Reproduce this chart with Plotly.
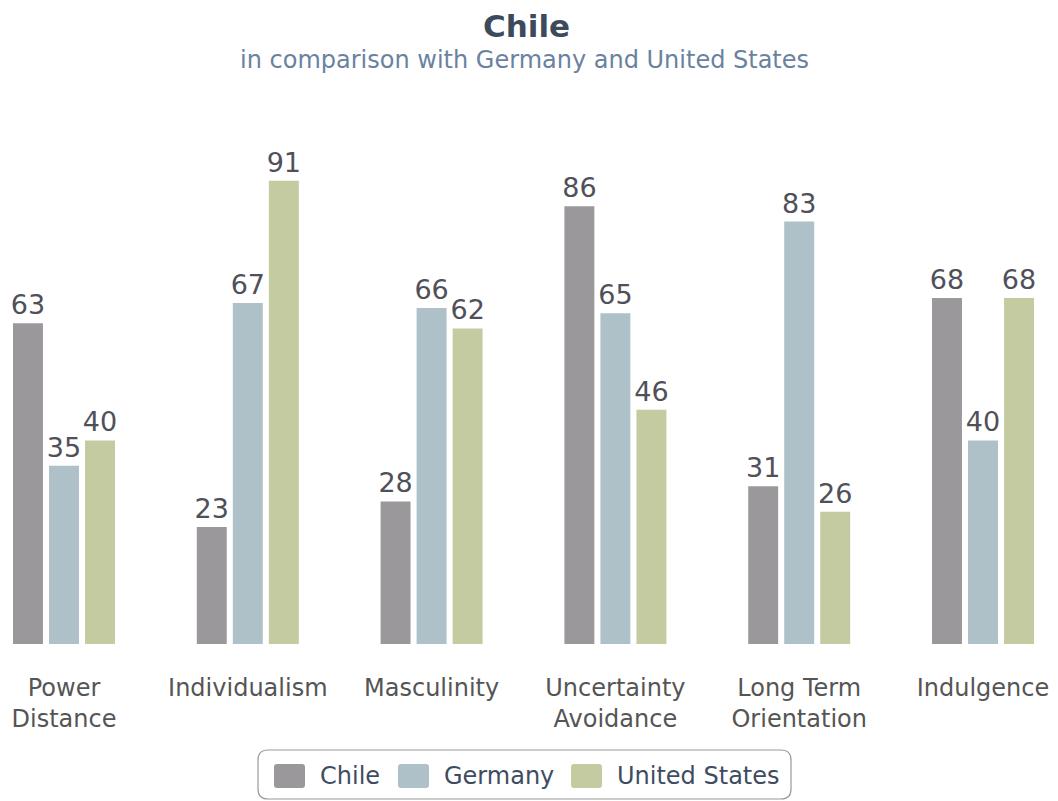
import plotly.graph_objects as go

# Hofstede cultural dimensions
dimensions = ["Power<br>Distance", "Individualism", "Masculinity",
              "Uncertainty<br>Avoidance", "Long Term<br>Orientation", "Indulgence"]
chile = [63, 23, 28, 86, 31, 68]
germany = [35, 67, 66, 65, 83, 40]
united_states = [40, 91, 62, 46, 26, 68]

series = [
    ("Chile", chile, "#9a989b"),
    ("Germany", germany, "#aec1c8"),
    ("United States", united_states, "#c4cba1"),
]

W, H = 1058, 801
positions = list(range(len(dimensions)))

BAR_W = 0.163
STEP = 0.196

fig = go.Figure()
for i, (name, vals, color) in enumerate(series):
    center = (i - 1) * STEP
    fig.add_trace(go.Bar(
        name=name,
        x=positions,
        y=vals,
        width=BAR_W,
        offset=center - BAR_W / 2,
        marker=dict(color=color, line=dict(width=0)),
        text=vals,
        texttemplate="%{text}",
        textposition="outside",
        constraintext="none",
        textfont=dict(family="DejaVu Sans", size=27, color="#50505a"),
        cliponaxis=False,
        showlegend=False,
        hoverinfo="skip",
    ))


def px(x):
    return x / W


def py(y):
    return 1 - y / H


def rounded_rect(x0, y0, x1, y1, r):
    # rounded rectangle path in paper coordinates, given pixel corners
    rx, ry = r / W, r / H
    X0, X1 = px(x0), px(x1)
    Y0, Y1 = py(y0), py(y1)  # Y0 top, Y1 bottom
    return (f"M {X0 + rx},{Y0} L {X1 - rx},{Y0} Q {X1},{Y0} {X1},{Y0 - ry} "
            f"L {X1},{Y1 + ry} Q {X1},{Y1} {X1 - rx},{Y1} "
            f"L {X0 + rx},{Y1} Q {X0},{Y1} {X0},{Y1 + ry} "
            f"L {X0},{Y0 - ry} Q {X0},{Y0} {X0 + rx},{Y0} Z")


shapes = []
annotations = []

# legend frame
shapes.append(dict(type="path", xref="paper", yref="paper",
                   path=rounded_rect(258, 750, 791, 799, 10),
                   line=dict(color="#9a9a9a", width=1.2),
                   fillcolor="rgba(255,255,255,0)"))

legend_items = [(274, 318), (398, 442), (571, 615)]
for (mx, tx), (name, _, color) in zip(legend_items, series):
    shapes.append(dict(type="path", xref="paper", yref="paper",
                       path=rounded_rect(mx, 764, mx + 31, 788, 3),
                       line=dict(width=0), fillcolor=color))
    annotations.append(dict(xref="paper", yref="paper", x=px(tx), y=py(776),
                            xanchor="left", yanchor="middle", showarrow=False,
                            text=name,
                            font=dict(family="DejaVu Sans", size=24, color="#3e4c62")))

# title and subtitle
annotations.append(dict(xref="paper", yref="paper", x=px(526), y=py(26),
                        xanchor="center", yanchor="middle", showarrow=False,
                        text="<b>Chile</b>",
                        font=dict(family="DejaVu Sans", size=31, color="#3d4a5c")))
annotations.append(dict(xref="paper", yref="paper", x=px(524), y=py(60),
                        xanchor="center", yanchor="middle", showarrow=False,
                        text="in comparison with Germany and United States",
                        font=dict(family="DejaVu Sans", size=24, color="#6a82a0")))

x_left = -64 / 183.8
x_right = (W - 64) / 183.8

fig.update_layout(
    width=W, height=H,
    margin=dict(l=0, r=0, t=0, b=0),
    paper_bgcolor="white",
    plot_bgcolor="white",
    barmode="overlay",
    showlegend=False,
    shapes=shapes,
    annotations=annotations,
    xaxis=dict(
        range=[x_left, x_right],
        tickvals=positions,
        ticktext=dimensions,
        tickfont=dict(family="DejaVu Sans", size=24, color="#555555"),
        showgrid=False, zeroline=False, showline=False,
        ticks="", ticklabelstandoff=27,
        fixedrange=True,
    ),
    yaxis=dict(
        range=[0, 100],
        domain=[(H - 644) / H, (H - 135) / H],
        visible=False,
        fixedrange=True,
    ),
)

fig.write_html("out.html")
